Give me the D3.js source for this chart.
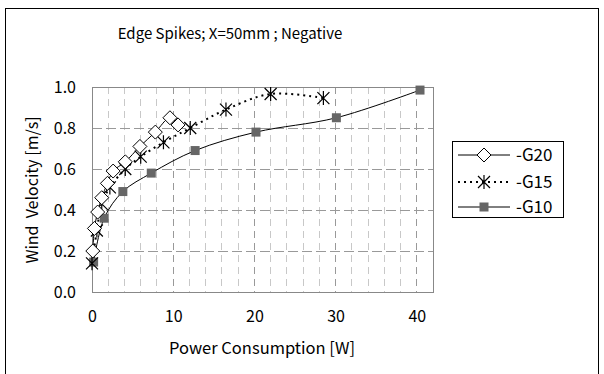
<!DOCTYPE html>
<html><head><meta charset="utf-8">
<script src="https://cdn.jsdelivr.net/npm/d3@7"></script>
<style>body{margin:0;background:#fff}svg{display:block}text{font-family:"Noto Sans CJK JP","Liberation Sans",sans-serif;fill:#000;white-space:pre}</style>
</head><body><svg id="c" width="604" height="374"></svg>
<script>
const title = "Edge Spikes; X=50mm ; Negative";
const xLabel = "Power Consumption [W]";
const yLabel = "Wind  Velocity [m/s]";
const xTicks = [0, 10, 20, 30, 40];
const yTicks = [0.0, 0.2, 0.4, 0.6, 0.8, 1.0];
const seriesNames = ["-G20", "-G15", "-G10"];
const g20x = [0.1, 0.3, 0.7, 1.2, 1.9, 2.6, 4.1, 5.9, 7.8, 9.6, 10.6];
const g20y = [0.20, 0.31, 0.39, 0.46, 0.53, 0.59, 0.635, 0.71, 0.78, 0.85, 0.815];
const g15x = [0.0, 0.6, 1.2, 2.2, 4.1, 6.0, 8.8, 12.1, 16.5, 22.0, 28.5];
const g15y = [0.14, 0.30, 0.43, 0.51, 0.60, 0.66, 0.73, 0.80, 0.89, 0.966, 0.946];
const g10x = [0.2, 1.5, 3.8, 7.3, 12.7, 20.2, 30.1, 40.4];
const g10y = [0.146, 0.36, 0.49, 0.58, 0.69, 0.78, 0.85, 0.985];

const svg = d3.select("#c");
svg.append("rect").attr("x",5.5).attr("y",8.5).attr("width",593).attr("height",400)
  .attr("fill","#fff").attr("stroke","#000").attr("stroke-width",1);

const L=92, R=433, T=87, B=292;
const x = d3.scaleLinear().domain([0,42]).range([L,R]);
const y = d3.scaleLinear().domain([0,1]).range([B,T]);

// grid
const g = svg.append("g");
d3.range(2, 42, 2).forEach(v=>{
  g.append("line").attr("x1",x(v)).attr("x2",x(v)).attr("y1",T).attr("y2",B)
   .attr("stroke", v%10===0 ? "#999" : "#c8c8c8").attr("stroke-width",1)
   .attr("stroke-dasharray","7,5").attr("shape-rendering","crispEdges");
});
yTicks.slice(1,-1).forEach(v=>{
  g.append("line").attr("x1",L).attr("x2",R).attr("y1",y(v)).attr("y2",y(v))
   .attr("stroke","#999").attr("stroke-width",1).attr("stroke-dasharray","10,4")
   .attr("shape-rendering","crispEdges");
});
svg.append("rect").attr("x",L).attr("y",T).attr("width",R-L).attr("height",B-T)
  .attr("fill","none").attr("stroke","#888").attr("shape-rendering","crispEdges");

// axes
const xa = svg.append("g").attr("transform",`translate(0,${B})`)
  .call(d3.axisBottom(x).tickValues(xTicks).tickSize(0).tickPadding(19).tickFormat(d3.format("d")));
xa.select(".domain").remove();
xa.selectAll("text").attr("font-size",16);
const ya = svg.append("g").attr("transform",`translate(${L},0)`)
  .call(d3.axisLeft(y).tickValues(yTicks).tickSize(0).tickPadding(16).tickFormat(d3.format(".1f")));
ya.select(".domain").remove();
ya.selectAll("text").attr("font-size",16);

svg.append("text").attr("x",230).attr("y",39).attr("text-anchor","middle").attr("font-size",15).text(title);
svg.append("text").attr("x",262).attr("y",354).attr("text-anchor","middle").attr("font-size",16.5).text(xLabel);
svg.append("text").attr("transform","translate(38,190) rotate(-90)").attr("text-anchor","middle").attr("font-size",16).text(yLabel);

const line = d3.line().x(d=>x(d[0])).y(d=>y(d[1])).curve(d3.curveCatmullRom.alpha(0.5));
const d20 = g20x.map((v,i)=>[v,g20y[i]]);
const d15 = g15x.map((v,i)=>[v,g15y[i]]);
const d10 = g10x.map((v,i)=>[v,g10y[i]]);

svg.append("path").attr("d",line(d10)).attr("fill","none").attr("stroke","#000").attr("stroke-width",1);
svg.append("path").attr("d",line(d15)).attr("fill","none").attr("stroke","#000").attr("stroke-width",2).attr("stroke-dasharray","2,4");
svg.append("path").attr("d",line(d20)).attr("fill","none").attr("stroke","#000").attr("stroke-width",1);

function square(sel,cx,cy){ sel.append("rect").attr("x",cx-4.5).attr("y",cy-4.5).attr("width",9).attr("height",9).attr("fill","#666"); }
function star(sel,cx,cy){
  const s=6; sel.append("path").attr("d",
    `M${cx-s},${cy-s}L${cx+s},${cy+s}M${cx-s},${cy+s}L${cx+s},${cy-s}M${cx},${cy-s-1}L${cx},${cy+s+1}`)
   .attr("stroke","#000").attr("stroke-width",1.2).attr("fill","none");
}
function diamond(sel,cx,cy){
  const s=7; sel.append("path").attr("d",`M${cx},${cy-s}L${cx+s},${cy}L${cx},${cy+s}L${cx-s},${cy}Z`)
   .attr("fill","#fff").attr("stroke","#000").attr("stroke-width",1);
}
const mk = svg.append("g");
d10.forEach(d=>square(mk,x(d[0]),y(d[1])));
d15.forEach(d=>star(mk,x(d[0]),y(d[1])));
d20.forEach(d=>diamond(mk,x(d[0]),y(d[1])));

// legend
const lg = svg.append("g");
lg.append("rect").attr("x",452.5).attr("y",141.5).attr("width",111).attr("height",76).attr("fill","#fff").attr("stroke","#000");
const rows=[155,182,207];
const fns=[diamond,star,square];
rows.forEach((ry,i)=>{
  const l = lg.append("line").attr("x1",458).attr("x2",510).attr("y1",ry).attr("y2",ry).attr("stroke","#000");
  if(i===1) l.attr("stroke-width",2).attr("stroke-dasharray","2,4"); else l.attr("stroke-width",1);
  fns[i](lg,484,ry);
  lg.append("text").attr("x",516).attr("y",ry+6).attr("font-size",17).text(seriesNames[i]);
});
</script></body></html>
